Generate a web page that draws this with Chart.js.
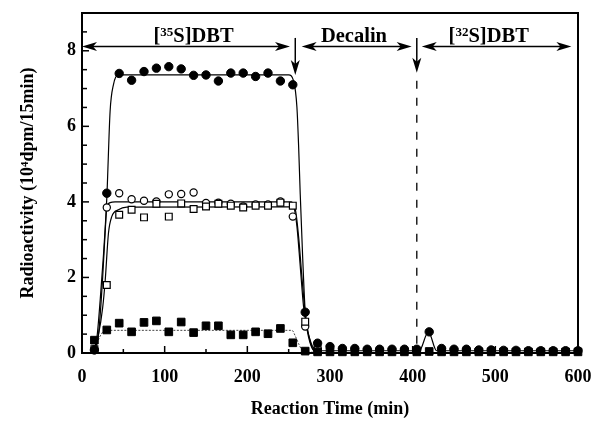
<!DOCTYPE html>
<html>
<head>
<meta charset="utf-8">
<script src="https://cdn.jsdelivr.net/npm/chart.js@4/dist/chart.umd.min.js"></script>
<style>
html,body{margin:0;padding:0;background:#fff;}
#wrap{width:595px;height:423px;position:relative;}
</style>
</head>
<body>
<div id="wrap"><canvas id="c"></canvas></div>
<script>
// ---- Data ----
const times = [15,30,45,60,75,90,105,120,135,150,165,180,195,210,225,240,255,270,285,300,
               315,330,345,360,375,390,405,420,435,450,465,480,495,510,525,540,555,570,585,600];

// filled circles
const filledCircles = [0.08,4.23,7.40,7.22,7.45,7.54,7.58,7.52,7.35,7.36,7.20,7.41,7.41,7.32,7.41,7.20,7.10,1.08,0.26,0.17,
                       0.12,0.12,0.10,0.10,0.10,0.10,0.10,0.56,0.12,0.10,0.10,0.08,0.08,0.07,0.07,0.06,0.06,0.06,0.06,0.06];
// open circles
const openCircles = [0.10,3.85,4.23,4.07,4.03,4.01,4.20,4.21,4.25,3.97,3.98,3.95,3.88,3.93,3.93,4.01,3.61,0.70,0.10];
// open squares
const openSquares = [0.10,1.80,3.66,3.79,3.59,3.95,3.61,3.96,3.81,3.88,3.95,3.90,3.85,3.90,3.90,3.98,3.90,0.83,0.10];
// filled squares
const filledSquares = [0.34,0.61,0.79,0.56,0.81,0.85,0.56,0.82,0.54,0.72,0.72,0.48,0.48,0.56,0.51,0.65,0.27,0.05,0.03,0.03,
                       0.03,0.03,0.03,0.03,0.03,0.03,0.03,0.04,0.03,0.03,0.03,0.03,0.03,0.03,0.03,0.03,0.03,0.03,0.03,0.03];

// fitted curves (x, y)
const fitFilledCircle = [[13,0],[18,0.4],[22,1.4],[26,2.6],[30,4.1],[34,6.4],[38,7.1],[44,7.36],[250,7.36],[256,7.2],
                         [260,6.5],[262,5.5],[264,4.2],[267,2.5],[270,1.1],[276,0.34],[282,0.1],[290,0.06],[408,0.06],
                         [419,0.56],[429,0.06],[600,0.06]];
const fitOpenCircle = [[13,0],[20,0.5],[25,2.0],[28,3.2],[30,3.85],[34,3.98],[40,4.0],[253,4.0],[256,3.9],[260,3.35],
                       [264,2.3],[268,1.23],[274,0.43],[280,0.08],[290,0.02]];
const fitOpenSquare = [[13,0],[20,0.5],[25,1.2],[28,1.9],[32,3.17],[36,3.61],[44,3.79],[54,3.86],[255,3.87],[258,3.8],
                       [262,3.08],[266,2.02],[270.5,0.96],[276.6,0.26],[282,0.03],[290,0.02]];
const fitFilledSquare = [[13,0],[18,0.25],[22,0.45],[28,0.6],[254,0.6],[258,0.45],[262,0.25],[266,0.08],[272,0.02],[290,0.02]];

// phase annotations
const phaseArrowY = 8.11;
const phases = [
  {from: 0,     to: 251.6, label: ['[', '35', 'S]DBT'], center: 135},
  {from: 265.7, to: 398.8, label: ['', '', 'Decalin'], center: 329},
  {from: 411,   to: 592,   label: ['[', '32', 'S]DBT'], center: 492}
];
const switchArrows = [{x: 258, top: 8.34, tip: 7.36, dashed: false},
                      {x: 405, top: 8.34, tip: 7.42, dashed: true}];

const xTitle = 'Reaction Time (min)';
const yTitle = 'Radioactivity (10⁴dpm/15min)';

// ---- build ----
const pts = (ys) => ys.map((y, i) => ({x: times[i], y}));
const pairs = (arr) => arr.map(p => ({x: p[0], y: p[1]}));
const SERIF = '"Liberation Serif","Times New Roman",serif';

function fitDs(data, opts) {
  return Object.assign({type: 'line', data: pairs(data), borderColor: '#000', borderWidth: 1.2,
    pointRadius: 0, fill: false, cubicInterpolationMode: 'monotone', clip: false, order: 5}, opts || {});
}
function markDs(data, style, filled, r, order) {
  return {type: 'scatter', data: pts(data), pointStyle: style, pointRadius: r, pointHoverRadius: r,
    backgroundColor: filled ? '#000' : '#fff', borderColor: '#000', borderWidth: filled ? 1 : 1.2,
    showLine: false, clip: false, order: order};
}

function arrowHead(ctx, x, y, dx, dy) {
  const L = 15, W = 4.5, N = 11;
  const px = -dy, py = dx;
  ctx.beginPath();
  ctx.moveTo(x, y);
  ctx.lineTo(x - dx * L + px * W, y - dy * L + py * W);
  ctx.lineTo(x - dx * N, y - dy * N);
  ctx.lineTo(x - dx * L - px * W, y - dy * L - py * W);
  ctx.closePath();
  ctx.fill();
}

const decor = {
  id: 'decor',
  afterDraw(chart) {
    const ctx = chart.ctx, xs = chart.scales.x, ys = chart.scales.y, a = chart.chartArea;
    ctx.save();
    ctx.strokeStyle = '#000'; ctx.fillStyle = '#000';
    ctx.lineWidth = 2;
    ctx.strokeRect(a.left, a.top, a.right - a.left, a.bottom - a.top);
    ctx.lineWidth = 1.5;
    xs.ticks.forEach(t => {
      const p = xs.getPixelForValue(t.value);
      const len = (t.value % 100 === 0) ? 7 : 4;
      ctx.beginPath(); ctx.moveTo(p, a.bottom); ctx.lineTo(p, a.bottom - len); ctx.stroke();
    });
    ys.ticks.forEach(t => {
      const p = ys.getPixelForValue(t.value);
      const len = (t.value % 2 === 0) ? 7 : 5;
      ctx.beginPath(); ctx.moveTo(a.left, p); ctx.lineTo(a.left + len, p); ctx.stroke();
    });
    const ay = ys.getPixelForValue(phaseArrowY);
    ctx.lineWidth = 1.5;
    phases.forEach(ph => {
      const x1 = xs.getPixelForValue(ph.from), x2 = xs.getPixelForValue(ph.to);
      ctx.beginPath(); ctx.moveTo(x1 + 8, ay); ctx.lineTo(x2 - 8, ay); ctx.stroke();
      arrowHead(ctx, x1, ay, -1, 0);
      arrowHead(ctx, x2, ay, 1, 0);
      const big = 'bold 20.5px ' + SERIF, small = 'bold 13px ' + SERIF;
      ctx.font = big; const w1 = ctx.measureText(ph.label[0]).width, w3 = ctx.measureText(ph.label[2]).width;
      ctx.font = small; const w2 = ctx.measureText(ph.label[1]).width;
      let x = xs.getPixelForValue(ph.center) - (w1 + w2 + w3) / 2;
      const base = ay - 5;
      ctx.textBaseline = 'alphabetic'; ctx.textAlign = 'left';
      ctx.font = big; ctx.fillText(ph.label[0], x, base); x += w1;
      ctx.font = small; ctx.fillText(ph.label[1], x, base - 6); x += w2;
      ctx.font = big; ctx.fillText(ph.label[2], x, base);
    });
    switchArrows.forEach(s => {
      const x = xs.getPixelForValue(s.x);
      const yt = ys.getPixelForValue(s.top), yp = ys.getPixelForValue(s.tip);
      ctx.lineWidth = 1.5; ctx.setLineDash([]);
      ctx.beginPath(); ctx.moveTo(x, yt); ctx.lineTo(x, yp - 8); ctx.stroke();
      arrowHead(ctx, x, yp, 0, 1);
      if (s.dashed) {
        ctx.lineWidth = 1.3; ctx.setLineDash([8, 9]);
        ctx.beginPath(); ctx.moveTo(x, yp + 8); ctx.lineTo(x, a.bottom); ctx.stroke();
        ctx.setLineDash([]);
      }
    });
    ctx.restore();
  }
};

new Chart(document.getElementById('c'), {
  data: {
    datasets: [
      fitDs(fitFilledCircle),
      fitDs(fitOpenCircle),
      fitDs(fitOpenSquare),
      fitDs(fitFilledSquare, {borderWidth: 1, borderColor: '#444', borderDash: [2, 1.5]}),
      markDs(openCircles, 'circle', false, 3.6, 4),
      markDs(openSquares, 'rect', false, 4.8, 3),
      markDs(filledSquares, 'rect', true, 5.4, 2),
      markDs(filledCircles, 'circle', true, 4.2, 1)
    ]
  },
  options: {
    responsive: true, maintainAspectRatio: false, animation: false,
    events: [],
    layout: {padding: {left: 0, right: 17, top: 13, bottom: 0}},
    plugins: {legend: {display: false}, tooltip: {enabled: false}},
    scales: {
      x: {
        type: 'linear', min: 0, max: 600,
        afterFit(s) { s.height = 70; s.paddingLeft = 0; s.paddingRight = 0; },
        grid: {display: true, drawOnChartArea: false, drawTicks: false},
        border: {display: false},
        ticks: {stepSize: 50, autoSkip: false, maxRotation: 0, padding: 14, color: '#000',
          font: {family: SERIF, size: 18, weight: 'bold'},
          callback: v => (v % 100 === 0 ? String(v) : '')},
        title: {display: true, text: xTitle, color: '#000', padding: {top: 0, bottom: 3},
          font: {family: SERIF, size: 18, weight: 'bold'}}
      },
      y: {
        type: 'linear', min: 0, max: 9,
        afterFit(s) { s.width = 82; s.paddingTop = 0; s.paddingBottom = 0; },
        grid: {display: true, drawOnChartArea: false, drawTicks: false},
        border: {display: false},
        ticks: {stepSize: 0.5, autoSkip: false, padding: 6, color: '#000',
          font: {family: SERIF, size: 18, weight: 'bold'},
          callback: v => ((v % 2 === 0 && v <= 8) ? String(v) : '')},
        title: {display: true, text: yTitle, color: '#000', padding: {top: 18, bottom: 0},
          font: {family: SERIF, size: 18, weight: 'bold'}}
      }
    }
  },
  plugins: [decor]
});
</script>
</body>
</html>
